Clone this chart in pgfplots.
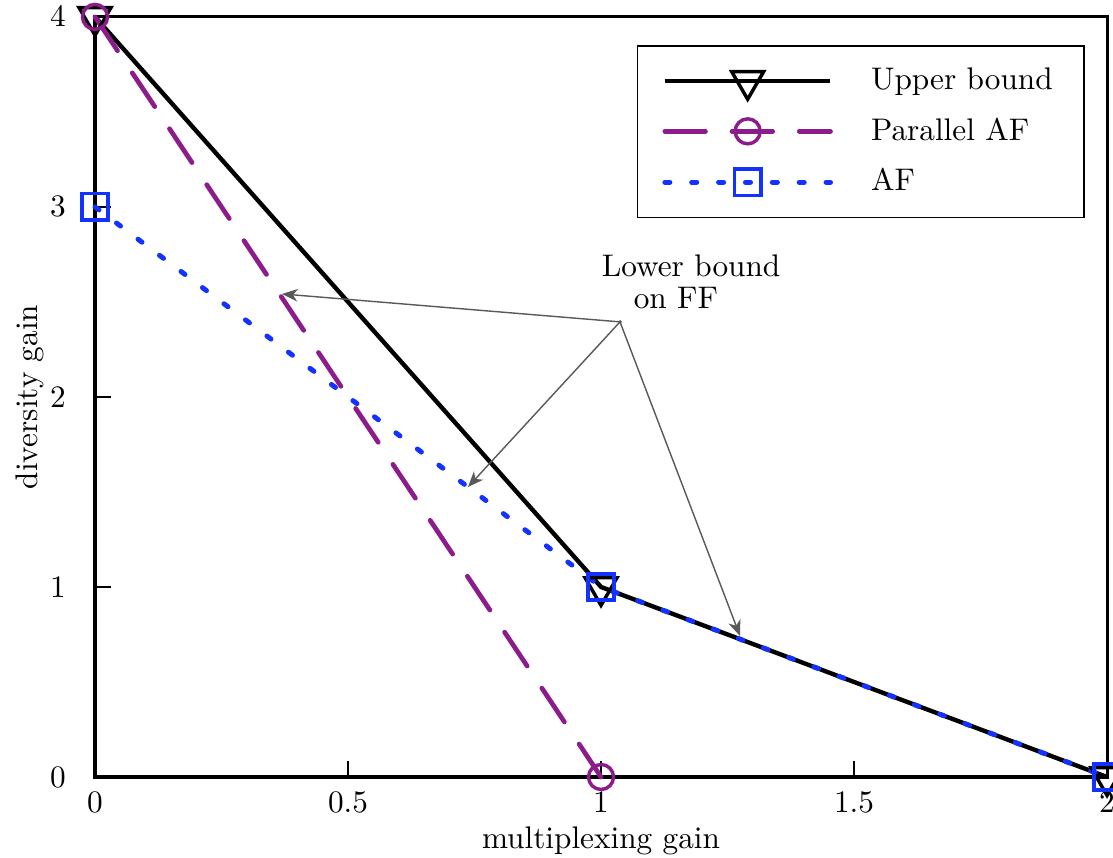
\documentclass[border=0pt]{standalone}
\usepackage{pgfplots}
\pgfplotsset{compat=1.18}
\usetikzlibrary{arrows.meta,calc}
\definecolor{ubk}{RGB}{0,0,0}
\definecolor{paf}{RGB}{140,28,140}
\definecolor{afb}{RGB}{20,50,255}
\begin{document}
\begin{tikzpicture}
\begin{axis}[name=ax, scale only axis, width=323.8pt, height=243.2pt,
  xmin=0, xmax=2, ymin=0, ymax=4,
  xtick={0,0.5,1,1.5,2}, ytick={0,1,2,3,4},
  xtick pos=bottom, ytick pos=left,
  tick align=inside, major tick length=5pt,
  tick style={line width=0.4pt, black},
  axis line style={line width=1pt},
  yticklabel style={xshift=-5.8pt},
  xticklabel style={yshift=-1.3pt},
  xlabel={multiplexing gain}, ylabel={diversity gain},
  xlabel style={yshift=2.1pt}, ylabel style={yshift=-5pt},
  clip=false,
  legend style={at={(0.978,0.963)}, anchor=north east, draw=black, line width=0.5pt,
    row sep=3.6pt, inner xsep=8pt, inner ysep=5pt, cells={anchor=west}, font=\normalsize},
  legend cell align=left,
  legend image code/.code={
    \draw[#1] (0pt,0pt) -- (53pt,0pt);
    \draw[#1, every mark/.append style={fill=white}] plot[only marks] coordinates {(26.5pt,0pt)};
    \draw[draw=none] (53pt,0pt) -- (64pt,0pt);
  }]
\addplot[ubk, line width=1.4pt, mark=triangle, mark size=5.9pt,
  mark options={solid, rotate=180, line width=1.1pt}]
  coordinates {(0,4) (1,1) (2,0)};
\addlegendentry{Upper bound}
\addplot[paf, line width=1.5pt, line cap=round, dash pattern=on 13pt off 8.5pt, mark=o, mark size=4pt,
  mark options={solid, line width=1.1pt}]
  coordinates {(0,4) (1,0)};
\addlegendentry{Parallel AF}
\addplot[afb, line width=1.6pt, line cap=round, dash pattern=on 1.6pt off 7pt, mark=square, mark size=4.2pt,
  mark options={solid, line width=1.1pt}]
  coordinates {(0,3) (1,1) (2,0)};
\addlegendentry{AF}
\node at (axis cs:1.178,2.689) {Lower bound};
\node at (axis cs:1.148,2.521) {on FF};
\fill[black!70] (axis cs:1.0375,2.395) circle (0.6pt);
\draw[black!65, line width=0.45pt, -{Stealth[length=5pt,width=4pt,inset=1.5pt]}]
  (axis cs:1.0375,2.395) -- (axis cs:0.3696,2.542);
\draw[black!65, line width=0.45pt, -{Stealth[length=5pt,width=4pt,inset=1.5pt]}]
  (axis cs:1.0375,2.395) -- (axis cs:0.737,1.526);
\draw[black!65, line width=0.45pt, -{Stealth[length=5pt,width=4pt,inset=1.5pt]}]
  (axis cs:1.0375,2.395) -- (axis cs:1.2747,0.742);
\end{axis}
\pgfresetboundingbox
\useasboundingbox ($(ax.south west)+(-30.4pt,-25.9pt)$) rectangle ($(ax.north east)+(1.9pt,5.4pt)$);
\end{tikzpicture}
\end{document}
